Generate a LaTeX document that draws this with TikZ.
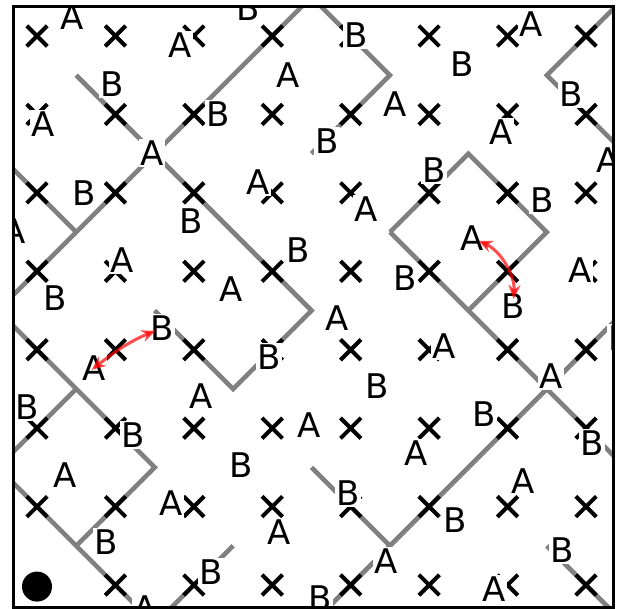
\documentclass[tikz,border=0pt]{standalone}
\usepackage{fontspec}
\setmainfont{DejaVu Sans}
\usetikzlibrary{shapes.misc,arrows.meta}
\begin{document}
\begin{tikzpicture}[x=1pt,y=-1pt,
  wall/.style={draw=gray,line width=4.6pt},
  xmark/.style={cross out,draw=black,line width=4pt,minimum size=16.5pt,inner sep=0pt},
  lbl/.style={fill=white,inner xsep=1pt,inner ysep=1.5pt,font=\fontsize{34}{34}\selectfont},
  link/.style={draw=red,opacity=0.7,line width=3pt,{Stealth[length=14pt,width=12pt]}-{Stealth[length=14pt,width=12pt]}}]
\useasboundingbox (0,0) rectangle (620,608);
\begin{scope}
\clip (13.5,6.7) rectangle (613.5,607.5);
\begin{scope}[x=78.43pt,y=-78.43pt,shift={(37pt,-36pt)}]
\draw[wall] (4,-1) -- (-1,4);
\draw[wall] (0.5,0.5) -- (3.5,3.5) -- (2.5,4.5) -- (1.5,3.5);
\draw[wall] (-1,1) -- (0.5,2.5);
\draw[wall] (8,-1) -- (6.5,0.5) -- (8,2);
\draw[wall] (3,-1) -- (4.5,0.5) -- (3.5,1.5);
\draw[wall] (4.5,2.5) -- (5.5,1.5) -- (6.5,2.5) -- (5.5,3.5);
\draw[wall] (4.5,2.5) -- (9,7);
\draw[wall] (8.5,2.5) -- (3,8);
\draw[wall] (3.5,5.5) -- (4.5,6.5);
\draw[wall] (6.5,6.5) -- (8,8);
\draw[wall] (-1,3) -- (1.5,5.5) -- (0.5,6.5);
\draw[wall] (0.5,4.5) -- (-1,6);
\draw[wall] (-1,5) -- (2,8);
\draw[wall] (2.5,6.5) -- (1,8);
\foreach \i in {0,...,7} \foreach \j in {0,...,6} \node[xmark] (c\i\j) at (\i,\j) {};
\foreach \i in {1,...,7} \node[xmark] (c\i7) at (\i,7) {};
\node[circle,fill=black,minimum size=30pt,inner sep=0pt] (dot) at (0,7.02) {};
\end{scope}
\node[lbl] (l1) at (72,17) {A};
\node[lbl] (l2) at (248,8) {B};
\node[lbl] (l3) at (180,45) {A};
\node[lbl] (l4) at (356,35) {B};
\node[lbl] (l5) at (531,24) {A};
\node[lbl] (l6) at (462,64) {B};
\node[lbl] (l7) at (112,84) {B};
\node[lbl] (l8) at (288,75) {A};
\node[lbl] (l9) at (395,104) {A};
\node[lbl] (l10) at (571,94) {B};
\node[lbl] (l11) at (43,124) {A};
\node[lbl] (l12) at (218,114) {B};
\node[lbl] (l13) at (327,141) {B};
\node[lbl] (l14) at (501,132) {A};
\node[lbl] (l15) at (152,153) {A};
\node[lbl] (l16) at (608,160) {A};
\node[lbl] (l17) at (434,170) {B};
\node[lbl] (l18) at (258,182) {A};
\node[lbl] (l19) at (84,193) {B};
\node[lbl] (l20) at (366,209) {A};
\node[lbl] (l21) at (542,200) {B};
\node[lbl] (l22) at (191,221) {B};
\node[lbl] (l23) at (14.5,231) {A};
\node[lbl] (l24) at (298,250) {B};
\node[lbl] (l25) at (472,238) {A};
\node[lbl] (l26) at (122,260) {A};
\node[lbl] (l27) at (580,270) {A};
\node[lbl] (l28) at (55,298) {B};
\node[lbl] (l29) at (231,289) {A};
\node[lbl] (l30) at (405,278) {B};
\node[lbl] (l31) at (513,306) {B};
\node[lbl] (l32) at (337,318) {A};
\node[lbl] (l33) at (162,328) {B};
\node[lbl] (l34) at (620,338) {B};
\node[lbl] (l35) at (444,346) {A};
\node[lbl] (l36) at (269,357) {B};
\node[lbl] (l37) at (94,368) {A};
\node[lbl] (l38) at (551,376) {A};
\node[lbl] (l39) at (377,386) {B};
\node[lbl] (l40) at (201,396) {A};
\node[lbl] (l41) at (27,407) {B};
\node[lbl] (l42) at (484,414) {B};
\node[lbl] (l43) at (309,425) {A};
\node[lbl] (l44) at (133,435) {B};
\node[lbl] (l45) at (592,443) {B};
\node[lbl] (l46) at (416,453) {A};
\node[lbl] (l47) at (241,465) {B};
\node[lbl] (l48) at (65,475) {A};
\node[lbl] (l49) at (523,481) {A};
\node[lbl] (l50) at (348,493) {B};
\node[lbl] (l51) at (171,503) {A};
\node[lbl] (l52) at (455,520) {B};
\node[lbl] (l53) at (279,532) {A};
\node[lbl] (l54) at (106,542) {B};
\node[lbl] (l55) at (562,550) {B};
\node[lbl] (l56) at (386,561) {A};
\node[lbl] (l57) at (211,572) {B};
\node[lbl] (l58) at (494,589) {A};
\node[lbl] (l59) at (145,608) {A};
\node[lbl] (l60) at (320,598) {B};
\end{scope}
\draw[link,shorten <=-3pt,shorten >=7pt] (l37.center) to[bend left=8] (l33.center);
\draw[link,shorten <=7pt,shorten >=7pt] (l25.center) to[bend left=35] (l31.center);
\draw[line width=3.3pt] (13.5,6.7) rectangle (613.5,607.5);
\end{tikzpicture}
\end{document}
